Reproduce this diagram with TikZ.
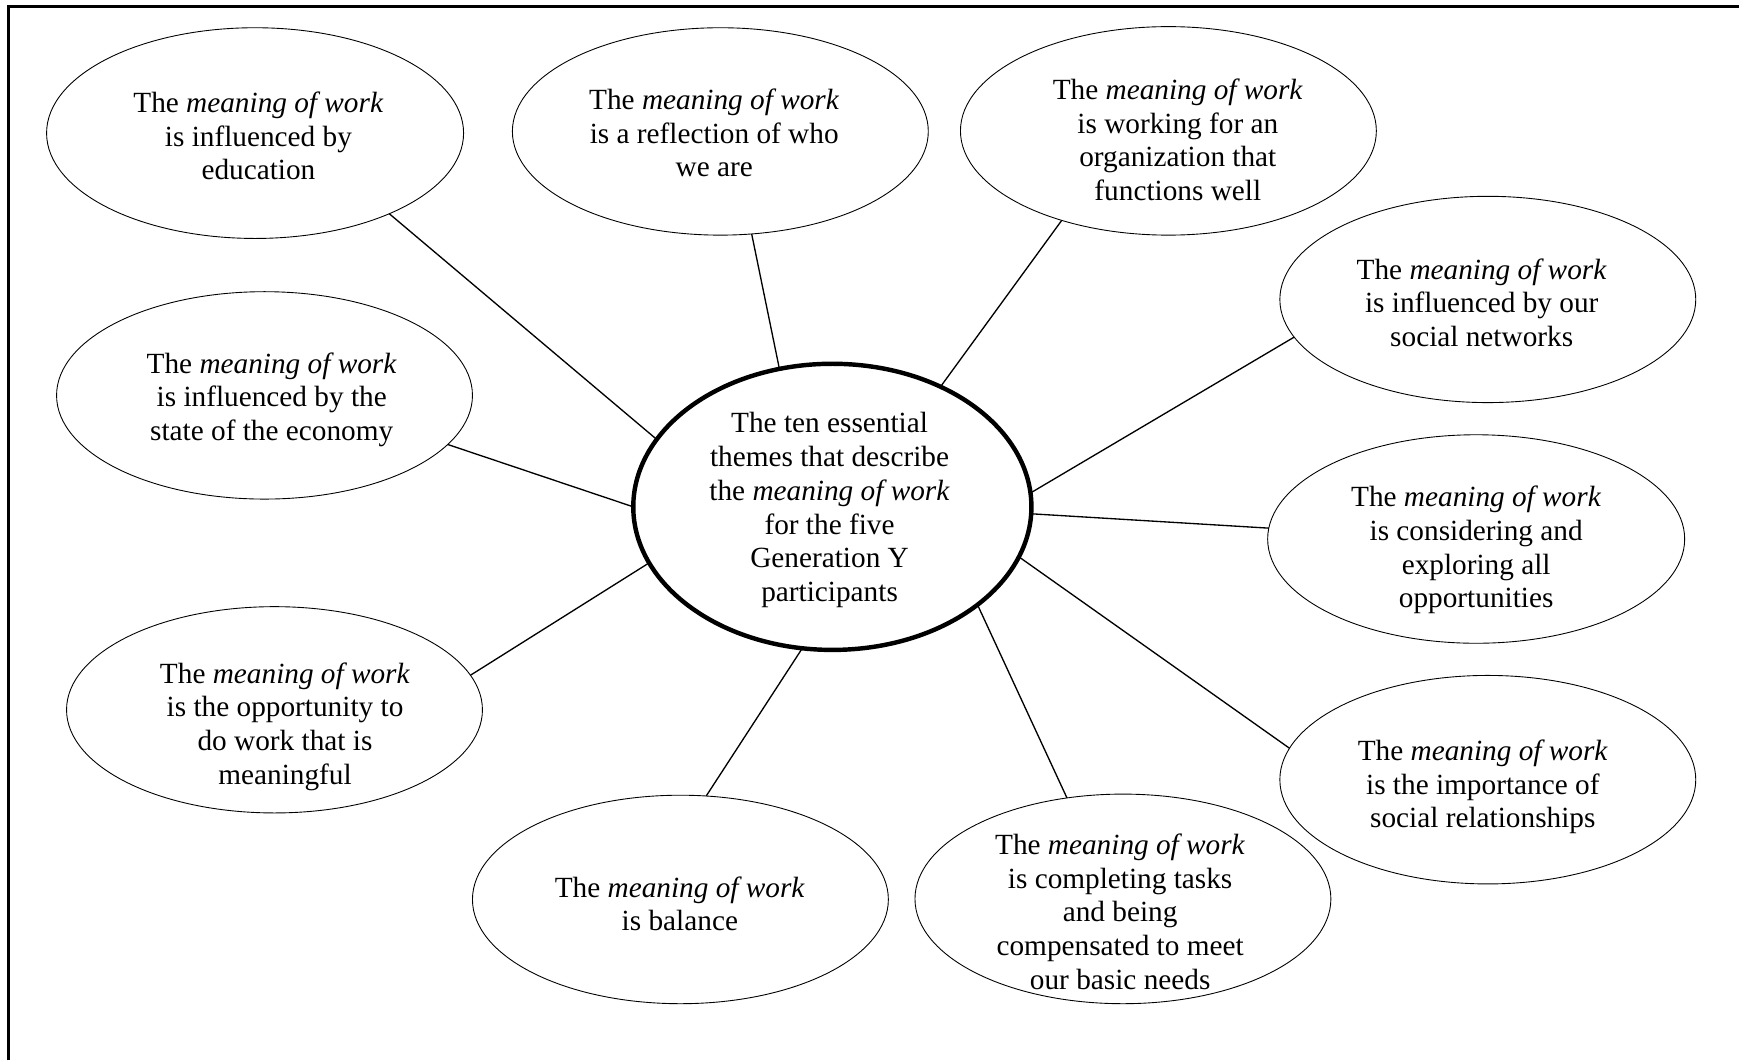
\documentclass[tikz,border=0pt]{standalone}
\usepackage{fontspec}
\setmainfont{Liberation Serif}
\usetikzlibrary{shapes.geometric}
\begin{document}
\begin{tikzpicture}[x=1pt,y=-1pt,
  bubble/.style={draw, ellipse, line width=0.8pt, inner sep=0pt, outer sep=0pt,
                 minimum width=375pt, minimum height=188pt},
  hub/.style={draw, ellipse, line width=4pt, inner sep=0pt, outer sep=0pt,
              minimum width=359pt, minimum height=258pt},
  txt/.style={align=center, inner sep=0pt, font=\fontsize{26.4}{30.4}\selectfont},
  spoke/.style={line width=1.2pt}
]
\useasboundingbox (0,0) rectangle (1568,956);

% frame (top and left edges)
\draw[line width=2.4pt] (7.6,956) -- (7.6,5.9) -- (1568,5.9);

% central theme
\node[hub] (hub) at (750.5,457) {};
\node[txt] (thub) at (748,460) {The ten essential\\themes that describe\\the \textit{meaning of work}\\for the five\\Generation Y\\participants};

% surrounding themes
\node[bubble, minimum width=376pt, minimum height=190pt] (e1) at (230,120) {};
\node[bubble, minimum height=187pt] (e2) at (649.5,118.5) {};
\node[bubble, minimum height=188pt] (e3) at (1053.5,118) {};
\node[bubble, minimum height=186pt] (e4) at (1341.5,270) {};
\node[bubble, minimum height=187pt] (e5) at (238.5,356.5) {};
\node[bubble, minimum width=376pt] (e6) at (1331,486) {};
\node[bubble, minimum height=186pt] (e7) at (247.5,640) {};
\node[bubble] (e8) at (1341.5,703) {};
\node[bubble] (e9) at (613.5,811) {};
\node[bubble, minimum height=189pt] (e10) at (1012.5,810.5) {};

\node[txt] (t1) at (233,122.5) {The \textit{meaning of work}\\is influenced by\\education};
\node[txt] (t2) at (644,120) {The \textit{meaning of work}\\is a reflection of who\\we are};
\node[txt] (t3) at (1062,126) {The \textit{meaning of work}\\is working for an\\organization that\\functions well};
\node[txt] (t4) at (1336,273) {The \textit{meaning of work}\\is influenced by our\\social networks};
\node[txt] (t5) at (245,360.5) {The \textit{meaning of work}\\is influenced by the\\state of the economy};
\node[txt] (t6) at (1331,496) {The \textit{meaning of work}\\is considering and\\exploring all\\opportunities};
\node[txt] (t7) at (257,655) {The \textit{meaning of work}\\is the opportunity to\\do work that is\\meaningful};
\node[txt] (t8) at (1337,709.5) {The \textit{meaning of work}\\is the importance of\\social relationships};
\node[txt] (t9) at (613,815) {The \textit{meaning of work}\\is balance};
\node[txt] (t10) at (1010,822) {The \textit{meaning of work}\\is completing tasks\\and being\\compensated to meet\\our basic needs};

% spokes from each theme to the centre
\draw[spoke] (e1.-31.6)  -- (hub.159.4);
\draw[spoke] (e2.-73.2)  -- (hub.111.8);
\draw[spoke] (e3.220.4)  -- (hub.48.4);
\draw[spoke] (e4.191.6)  -- (hub.4.5);
\draw[spoke] (e5.-15.2)  -- (hub.180);
\draw[spoke] (e6.177.8)  -- (hub.-2.5);
\draw[spoke] (e7.10.1)   -- (hub.197.2);
\draw[spoke] (e8.171.9)  -- (hub.-15.7);
\draw[spoke] (e9.76.2)   -- (hub.258.6);
\draw[spoke] (e10.119.5) -- (hub.-34.3);
\end{tikzpicture}
\end{document}
